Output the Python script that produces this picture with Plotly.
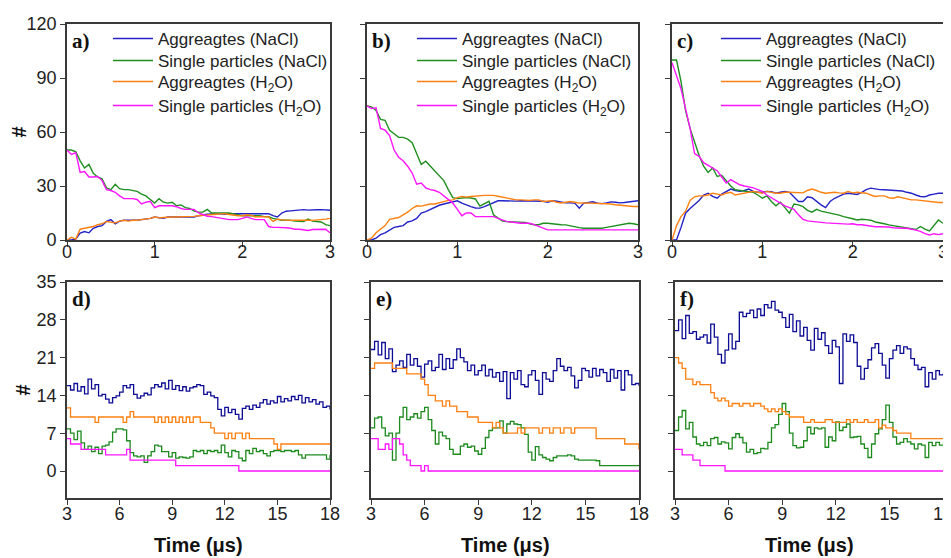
import plotly.graph_objects as go

# ---------------- time grids ----------------
T_TOP = [0.0, 0.05, 0.1, 0.15, 0.2, 0.25, 0.3, 0.35, 0.4, 0.45,
         0.5, 0.55, 0.6, 0.65, 0.7, 0.75, 0.8, 0.85, 0.9, 0.95,
         1.0, 1.05, 1.1, 1.15, 1.2, 1.25, 1.3, 1.35, 1.4, 1.45,
         1.5, 1.55, 1.6, 1.65, 1.7, 1.75, 1.8, 1.85, 1.9, 1.95,
         2.0, 2.05, 2.1, 2.15, 2.2, 2.25, 2.3, 2.35, 2.4, 2.45,
         2.5, 2.55, 2.6, 2.65, 2.7, 2.75, 2.8, 2.85, 2.9, 2.95,
         3.0]
T_BOT = [3.0, 3.2, 3.4, 3.6, 3.8, 4.0, 4.2, 4.4, 4.6, 4.8,
         5.0, 5.2, 5.4, 5.6, 5.8, 6.0, 6.2, 6.4, 6.6, 6.8,
         7.0, 7.2, 7.4, 7.6, 7.8, 8.0, 8.2, 8.4, 8.6, 8.8,
         9.0, 9.2, 9.4, 9.6, 9.8, 10.0, 10.2, 10.4, 10.6, 10.8,
         11.0, 11.2, 11.4, 11.6, 11.8, 12.0, 12.2, 12.4, 12.6, 12.8,
         13.0, 13.2, 13.4, 13.6, 13.8, 14.0, 14.2, 14.4, 14.6, 14.8,
         15.0, 15.2, 15.4, 15.6, 15.8, 16.0, 16.2, 16.4, 16.6, 16.8,
         17.0, 17.2, 17.4, 17.6, 17.8, 18.0]

SERIES_NAMES = ["Aggreagtes (NaCl)", "Single particles (NaCl)",
                "Aggreagtes (H<sub>2</sub>O)", "Single particles (H<sub>2</sub>O)"]
PANEL_LABELS = ["a)", "b)", "c)", "d)", "e)", "f)"]
X_TITLE = "Time (μs)"
Y_TITLE = "#"
TOP_YTICKS = [0, 30, 60, 90, 120]
BOT_YTICKS = [0, 7, 14, 21, 28, 35]
TOP_XTICKS = [0, 1, 2, 3]
BOT_XTICKS = [3, 6, 9, 12, 15, 18]

# ---------------- panel a ----------------
A_AGG_NACL = [0, 0, 0.5, 3.8, 4.7, 4, 6.5, 7.5, 8, 10.3,
              11.3, 9, 10.5, 11, 11, 10.9, 11, 11.3, 11.5, 12,
              12.8, 12.5, 12, 12.8, 12.8, 12.5, 12.6, 12.4, 12.6, 12.8,
              13.5, 14, 14.3, 14.5, 14.6, 14.5, 14.3, 14.6, 14.6, 14.6,
              14.6, 14.6, 14.6, 14.6, 14.6, 14.6, 14.6, 13.5, 12.8, 15,
              16, 16.2, 16.5, 16.6, 16.9, 16.6, 16.5, 16.8, 16.9, 16.6,
              16.5]
A_SGL_NACL = [50, 50, 49, 44, 40, 42, 37, 35, 34, 29,
              28, 31, 28.5, 28, 28, 27.5, 27, 25.5, 24.5, 22.5,
              20.5, 23, 21, 20.5, 21, 19, 19.5, 18, 17.5, 16,
              15.5, 15.5, 17, 15, 15, 15, 15, 15, 14.5, 14,
              13.5, 13.5, 13.5, 13.5, 13.5, 13, 13, 12, 11.3, 11,
              11, 11, 10.5, 10.3, 10.3, 11.6, 10.5, 10.3, 10, 8.5,
              8]
A_AGG_H2O = [0, 1.5, 0.5, 6, 6.5, 7, 7.5, 8.5, 9, 10.3,
             10, 9.5, 10.5, 11, 10.5, 11, 11, 11.3, 11.6, 12,
             12.8, 12.3, 12.5, 12.8, 12.8, 12.8, 12.8, 12.8, 13, 13.1,
             13.5, 13.8, 14, 14.2, 14.3, 14.5, 14.6, 14.2, 13.8, 13.5,
             13.5, 14, 13.8, 12.8, 13, 13, 12.8, 10.3, 11.6, 11.2,
             10.9, 10.9, 11, 11.1, 11.3, 11, 10.9, 11, 11.2, 11.6,
             12]
A_SGL_H2O = [50, 47.5, 48.5, 37.5, 38, 35, 35, 35.3, 33, 28,
             27.5, 26.5, 24.5, 23, 23, 23, 22.5, 20, 21, 21.5,
             18, 19, 19, 19, 19, 18.5, 17.5, 17, 17, 17,
             15, 14, 13.2, 13, 12.5, 12, 11.5, 11.3, 11.3, 11.3,
             12, 12.8, 12, 11.3, 11.3, 11.3, 7.5, 7, 7, 7,
             6.8, 6.5, 6, 6, 5.5, 5.3, 5.8, 6, 6, 6,
             4]

# ---------------- panel b ----------------
B_AGG_NACL = [0, 0, 1, 3, 4, 5.5, 7, 7.5, 8, 10,
              10.6, 12, 15, 15.8, 17, 18, 19.3, 20, 20.5, 21.4,
              21.8, 20.5, 19.3, 18.5, 17.8, 17.7, 18.5, 19.6, 20.5, 21.8,
              21.8, 21.6, 21.4, 21.6, 21.8, 21.8, 21.8, 21.6, 21.8, 21.5,
              21, 21.8, 21.5, 21, 20.6, 20.6, 20.5, 17.7, 20.5, 20.8,
              21.2, 20.5, 20.2, 20.6, 21.2, 21, 20.6, 20.8, 21, 21.5,
              21.8]
B_SGL_NACL = [74.5, 74, 72, 67, 66.5, 61, 59, 57, 57, 56,
              54, 48, 42, 43.8, 41, 38, 35.5, 33, 28, 23.5,
              23, 23.3, 23.6, 23.3, 22.8, 18.8, 20, 21.5, 14, 12,
              10.5, 10.2, 10, 10, 10, 9.8, 9, 8.5, 8.5, 9.3,
              9.3, 9, 8.5, 8.5, 8.4, 7.8, 7.2, 6.9, 6.5, 6.5,
              6.5, 6.5, 6.5, 7, 7.4, 8, 8.4, 8.6, 9.3, 9,
              8.5]
B_AGG_H2O = [0, 1, 4, 6, 8, 11.5, 12, 12.5, 14, 15.5,
             17.5, 19, 18.8, 19.5, 20, 20, 20.8, 21.4, 22, 22.3,
             23.5, 24.2, 23.8, 24.2, 24.5, 24.8, 24.8, 24.8, 24.8, 24.3,
             23.7, 23.4, 22.6, 22.3, 22.3, 22, 22, 22.3, 22.3, 21.4,
             21.8, 21.8, 21, 20.6, 21, 21.4, 21, 20.5, 20.6, 20.5,
             20.5, 20.5, 20.6, 20.5, 20, 19.6, 19.3, 18.8, 18.6, 18.6,
             18.6]
B_SGL_H2O = [74.5, 73, 73.5, 62, 61, 58, 50, 46, 44, 41,
             37.2, 31, 31.6, 29, 28, 27.5, 26.5, 24.5, 22.5, 20.5,
             17, 13.5, 15, 15, 13, 13, 13, 13, 13, 12,
             11, 10.2, 10, 9.5, 9.3, 9.3, 9.3, 8.5, 7.5, 6.5,
             5.6, 5.6, 5.6, 5.6, 5.6, 5.6, 5.6, 5.6, 5.6, 5.6,
             5.6, 5.6, 5.6, 5.6, 5.6, 5.6, 5.6, 5.6, 5.6, 5.6,
             5.6]

# ---------------- panel c ----------------
C_AGG_NACL = [0, 0, 7, 14.9, 17.5, 19.5, 22, 25, 26, 24.2,
              23.2, 25.5, 27, 28.3, 27.5, 27, 27.5, 28.3, 27, 26.5,
              26.5, 27, 26.8, 26, 26.5, 27, 26.5, 24.2, 21.4, 21.4,
              24, 23.5, 21.4, 19.5, 18, 21.4, 23.2, 24.5, 25.5, 26,
              25.5, 25.3, 26.5, 28, 28.8, 28.3, 28, 27.9, 27.8, 27.6,
              27.4, 27.2, 26.5, 26, 25, 24.2, 24, 25, 25.5, 26,
              26]
C_SGL_NACL = [100, 100, 88, 72, 62, 54, 47, 41, 37.5, 40,
              35.3, 36, 33, 30, 27.9, 27.5, 27, 27, 26.5, 25,
              23.2, 24.5, 21.4, 19, 21, 18, 14.9, 20, 19.5, 18.5,
              16.5, 15.5, 17, 16, 15.5, 15, 14.2, 13.8, 13, 12.2,
              11.8, 11.1, 11.5, 11.3, 11, 10, 9.3, 9, 8.4, 8,
              7.6, 7.4, 7, 6.5, 5.8, 7.5, 6, 5, 8, 11.1,
              9.3]
C_AGG_H2O = [0, 8, 13, 16, 22, 24, 24.5, 24.5, 25, 26,
             25.5, 25, 26, 26.5, 25, 25.5, 26, 26.5, 27, 26.5,
             26, 27, 26.5, 26, 26, 26.5, 26.5, 26.4, 26.5, 26.2,
             27.5, 28.3, 27.5, 26.5, 26, 26.2, 26.5, 26.2, 26, 27,
             26.2, 26.5, 26.4, 26, 25, 24.2, 24.5, 24.5, 23.5, 23.2,
             24, 23.5, 23, 22.3, 22.3, 22, 21.4, 21.3, 21, 20.8,
             20.8]
C_SGL_H2O = [98.5, 91, 84, 73, 62, 48, 46.5, 43, 41.5, 40,
             38.5, 35, 31.6, 33.5, 32, 30.7, 30, 29.5, 29, 28,
             27, 25, 23.5, 22, 20.5, 19, 18, 17, 14, 11.5,
             10.6, 10.2, 10, 9.8, 9.5, 9.3, 9.3, 9, 9, 8.8,
             9, 8.5, 8.5, 8, 7.6, 7.4, 7.4, 7.4, 7.2, 6.8,
             6.5, 6.5, 6.5, 6.2, 5.5, 4.8, 3.5, 2.8, 3.5, 3,
             3.5]

# ---------------- panel d ----------------
D_AGG_NACL = [15.8, 15, 16.2, 14.8, 15.6, 14.3, 17, 15.2, 16, 13.9,
              14.2, 13.3, 12.6, 13.6, 13.9, 14.6, 15.8, 15.4, 16, 14.2,
              13.5, 13.9, 14.4, 14.1, 15.4, 16, 15.6, 16.3, 15.2, 16.8,
              15.1, 15.8, 14.9, 15.6, 14.8, 15.4, 15.6, 16, 15.8, 14.2,
              14.6, 13.9, 13.6, 11.4, 10.2, 11.8, 10.8, 11.4, 10.5, 9.6,
              11.6, 12, 11.4, 12.2, 11.8, 12.6, 13.2, 12.4, 13, 12.6,
              13.8, 12.8, 13.4, 13, 13.8, 13.2, 14, 12.6, 13.6, 12.8,
              13.2, 12.4, 12.8, 11.8, 12, 11.4]
D_SGL_NACL = [7.8, 7, 5.8, 7.4, 5.2, 4, 4.6, 3.6, 4.4, 3.2,
              4.6, 4.8, 5.4, 7.2, 7.8, 7.8, 7.6, 5.6, 3.4, 2.8,
              2.6, 2.8, 1.6, 2.8, 3.6, 4.8, 4.6, 3.6, 3.6, 2.6,
              3.4, 2.4, 2.6, 2.5, 2.4, 2.6, 3.8, 3.6, 3.8, 3.2,
              3.8, 3.6, 3.8, 3.4, 4.8, 3.4, 2.6, 3.8, 3.6, 2.4,
              1.9, 3.8, 3.2, 4.2, 3.6, 3.8, 3.2, 2.8, 3.6, 3.8,
              3.8, 3.6, 3.8, 3.8, 3.6, 3.8, 3, 2.4, 3, 3,
              3, 3, 3, 3, 2.2, 3]
D_AGG_H2O = [11.7, 10, 10, 10, 10, 10, 10, 10, 9, 10,
             10, 10, 10, 10, 10, 10, 9, 10, 11, 10,
             10, 10, 10, 10, 10, 9, 10, 9, 10, 9,
             10, 9, 10, 9, 10, 9, 10, 10, 9, 9,
             9, 8, 7, 7, 7, 6, 7, 6, 7, 7,
             6, 7, 6, 6, 6, 6, 6, 6, 6, 5,
             4, 5, 5, 5, 5, 5, 5, 5, 5, 5,
             5, 5, 5, 5, 5, 5]
D_SGL_H2O = [6, 5, 5, 5, 4, 4, 4, 4, 4, 4,
             4, 3, 3, 3, 3, 3, 3, 4, 2, 2,
             2, 2, 2, 2, 2, 2, 2, 2, 2, 2,
             2, 1, 1, 1, 1, 1, 1, 1, 1, 1,
             1, 1, 1, 1, 1, 1, 1, 1, 1, 0,
             0, 0, 0, 0, 0, 0, 0, 0, 0, 0,
             0, 0, 0, 0, 0, 0, 0, 0, 0, 0,
             0, 0, 0, 0, 0, 0]

# ---------------- panel e ----------------
E_AGG_NACL = [22.5, 24, 21.5, 23.8, 20.8, 22.6, 18.4, 19.6, 20.4, 19.2,
              21.6, 19.6, 20.8, 19.4, 17.4, 19.8, 20.4, 18.6, 19.2, 21.6,
              18.8, 20.8, 19, 20.6, 22.6, 21, 20.2, 18.6, 19.6, 17.8,
              18.6, 19.6, 17.6, 18.8, 17.4, 18.2, 16.6, 18.4, 13.4, 18.2,
              17, 18.6, 16, 15.6, 17.8, 18.6, 16.8, 14.2, 18.2, 17,
              16.6, 18.6, 20.8, 19.4, 18.6, 19.2, 17.6, 15.4, 16.8, 19,
              18.6, 17.4, 19, 17.6, 18.8, 18.2, 16.6, 18.8, 17.2, 18.6,
              15, 18.6, 17.8, 16, 16.2, 15.8]
E_SGL_NACL = [8, 9.8, 10, 8, 6.5, 7, 2, 7, 10, 11.8,
              9.5, 10, 10.6, 9.8, 11, 11.8, 9.5, 7.5, 5, 7.2,
              6.5, 6, 4, 3.1, 3.1, 4.6, 5, 4.4, 4.6, 3.7,
              3.1, 4.2, 6.2, 7.5, 8, 8, 9.3, 7, 8.7, 9.2,
              8.7, 8.6, 8, 6.8, 3.5, 2, 4.5, 3, 2.5, 2.2,
              1.9, 2.5, 2.8, 2.8, 2.8, 3, 2.8, 2.2, 2, 2,
              2, 2, 2, 1.9, 1, 1, 1, 1, 1, 1,
              1, 1, 1, 1, 1, 1]
E_AGG_H2O = [19, 20, 20, 20, 20, 20, 19, 19, 19, 19,
             18, 18, 18, 18, 17, 16, 14, 14, 13, 13,
             12, 13, 12, 12, 11, 11, 11, 10, 10, 10,
             9, 9, 9, 9, 8, 9, 8, 7, 7, 7,
             7, 8, 7, 8, 8, 8, 8, 7, 8, 8,
             7, 8, 8, 7, 8, 8, 7, 8, 8, 8,
             8, 8, 8, 6, 6, 6, 6, 6, 6, 6,
             6, 5, 5, 5, 5, 4]
E_SGL_H2O = [6, 6, 4, 4, 5, 4, 6, 6, 5, 3,
             2, 1, 1, 1, 0, 1, 0, 0, 0, 0,
             0, 0, 0, 0, 0, 0, 0, 0, 0, 0,
             0, 0, 0, 0, 0, 0, 0, 0, 0, 0,
             0, 0, 0, 0, 0, 0, 0, 0, 0, 0,
             0, 0, 0, 0, 0, 0, 0, 0, 0, 0,
             0, 0, 0, 0, 0, 0, 0, 0, 0, 0,
             0, 0, 0, 0, 0, 0]

# ---------------- panel f ----------------
F_AGG_NACL = [26, 28, 24.5, 28.8, 25.5, 25.8, 24.4, 24.8, 25.2, 23.7,
              27.2, 24.8, 21.6, 20, 22.4, 25.4, 22.6, 24, 29.4, 28.6,
              29.2, 29.8, 28.4, 30, 28.8, 30.8, 30.2, 31.4, 29.8, 29.4,
              28.4, 26.6, 29, 25.8, 27.8, 25, 26.6, 24.2, 22.4, 26.4,
              24.4, 25.6, 23.2, 21.8, 24.2, 23, 16.2, 25.4, 24, 25.2,
              23.8, 19.4, 17, 19, 20.6, 22.8, 23.6, 21.8, 19.6, 17.2,
              20.8, 22.4, 23.2, 21.8, 23, 22.6, 20.8, 19.6, 18.8, 19.2,
              15.6, 18.2, 17, 18.6, 17.8, 18]
F_SGL_NACL = [7.5, 10, 11.2, 7.8, 9, 6.3, 5, 4.7, 5.3, 4.7,
              6, 6.2, 5, 5.4, 5.2, 4.1, 6.2, 6.9, 6.2, 5.2,
              3.5, 4, 3.2, 3.4, 4.2, 4.1, 5.3, 8, 8.6, 10.5,
              12.5, 11, 7, 4.7, 4.3, 4.4, 5.6, 8.1, 6.9, 8,
              7.8, 8, 4.4, 6.3, 5.6, 9.1, 7.5, 8.1, 8.7, 6.2,
              6.3, 6.4, 5, 4.2, 2.5, 5, 6.9, 7.8, 9.5, 12.2,
              9, 6.3, 5, 5.3, 6, 5.4, 5, 4.1, 5, 4.8,
              2.5, 5.3, 4.7, 5.3, 4.8, 4.7]
F_AGG_H2O = [21, 20, 19, 17, 17, 16, 16.5, 16, 16, 16,
             14.5, 13.5, 13, 13.5, 13, 12, 12.5, 12.5, 12, 12.5,
             12.5, 12, 12.5, 12.5, 12, 11.5, 11, 11.5, 11, 11.5,
             11, 10.5, 10, 10, 10, 10, 9, 9, 9.5, 9,
             9, 9, 9.5, 9.5, 9, 9, 9, 9, 9.5, 9,
             9.5, 9, 9, 9.5, 9, 9, 9.5, 8, 8.5, 8,
             8, 7.5, 7, 7, 7, 7, 6, 6, 6, 6,
             6, 6, 6, 6, 6, 6]
F_SGL_H2O = [4, 4, 3, 3, 3, 2, 2, 1, 1, 1,
             1, 1, 1, 1, 0, 0, 0, 0, 0, 0,
             0, 0, 0, 0, 0, 0, 0, 0, 0, 0,
             0, 0, 0, 0, 0, 0, 0, 0, 0, 0,
             0, 0, 0, 0, 0, 0, 0, 0, 0, 0,
             0, 0, 0, 0, 0, 0, 0, 0, 0, 0,
             0, 0, 0, 0, 0, 0, 0, 0, 0, 0,
             0, 0, 0, 0, 0, 0]

TOP_PANELS = [[A_AGG_NACL, A_SGL_NACL, A_AGG_H2O, A_SGL_H2O],
              [B_AGG_NACL, B_SGL_NACL, B_AGG_H2O, B_SGL_H2O],
              [C_AGG_NACL, C_SGL_NACL, C_AGG_H2O, C_SGL_H2O]]
BOT_PANELS = [[D_AGG_NACL, D_SGL_NACL, D_AGG_H2O, D_SGL_H2O],
              [E_AGG_NACL, E_SGL_NACL, E_AGG_H2O, E_SGL_H2O],
              [F_AGG_NACL, F_SGL_NACL, F_AGG_H2O, F_SGL_H2O]]

# ---------------- styling ----------------
# the page body has an 8px default margin: screen px = figure px + 8
OFF = 8
W, H = 951 - OFF, 558 - OFF
COL_TOP = ["#2323c8", "#1f8f1f", "#ff8010", "#ff14ff"]
COL_BOT = ["#0c0c94", "#1d8a1d", "#ff8010", "#ff14ff"]
SANS = "Liberation Sans, Arial, sans-serif"
SERIF = "Liberation Serif, Times New Roman, serif"
AX_COL = "#3a3a3a"

# screen-pixel boxes (left, right, top, bottom)
TOP_BOX = [(67, 330, 24, 240), (367, 638, 24, 240), (672, 943, 24, 240)]
BOT_BOX = [(67, 330, 282, 498), (371, 639, 282, 498), (675, 943, 282, 498)]


def fx(px):
    return (px - OFF) / W


def fy(py):
    return 1 - (py - OFF) / H


fig = go.Figure()

# one legend per entry so the rows can sit exactly as in the original
LEG_LEFT_PX = [108, 412, 716]
LEG_ROW_TOP_PX = [21, 43, 64, 88]

for p in range(3):
    ax = p + 1
    xref = "x" if ax == 1 else f"x{ax}"
    yref = "y" if ax == 1 else f"y{ax}"
    for s in range(4):
        n = p * 4 + s + 1
        lg = "legend" if n == 1 else f"legend{n}"
        fig.add_trace(go.Scatter(
            x=T_TOP, y=TOP_PANELS[p][s], mode="lines", name=SERIES_NAMES[s],
            line=dict(color=COL_TOP[s], width=1.4), xaxis=xref, yaxis=yref,
            legend=lg, showlegend=True))
for p in range(3):
    ax = p + 4
    xref, yref = f"x{ax}", f"y{ax}"
    for s in range(4):
        fig.add_trace(go.Scatter(
            x=T_BOT, y=BOT_PANELS[p][s], mode="lines", name=SERIES_NAMES[s],
            line=dict(color=COL_BOT[s], width=1.3, shape="hv"),
            xaxis=xref, yaxis=yref, showlegend=False))

axis_common = dict(showline=True, mirror=True, linecolor=AX_COL, linewidth=1.6,
                   ticks="outside", ticklen=5, tickwidth=1.4, tickcolor=AX_COL,
                   showgrid=False, zeroline=False, automargin=False,
                   ticklabeloverflow="allow",
                   tickfont=dict(family=SANS, size=18, color="#222"))

layout = dict(width=W, height=H, margin=dict(l=0, r=0, t=0, b=0, autoexpand=False),
              paper_bgcolor="white", plot_bgcolor="white", showlegend=True)

for i in range(6):
    ax = i + 1
    if i < 3:
        l, r, t, b = TOP_BOX[i]
        xr, yr = [0, 3], [0, 120]
        xt, yt = TOP_XTICKS, TOP_YTICKS
        xstand = -10
    else:
        l, r, t, b = BOT_BOX[i - 3]
        xr, yr = [3, 18], [-5, 35]
        xt, yt = BOT_XTICKS, BOT_YTICKS
        xstand = -6
    xa = dict(axis_common, domain=[fx(l), fx(r)], range=xr, tickvals=xt,
              anchor="y" if ax == 1 else f"y{ax}", ticklabelstandoff=xstand)
    ya = dict(axis_common, domain=[fy(b), fy(t)], range=yr, tickvals=yt,
              anchor="x" if ax == 1 else f"x{ax}",
              showticklabels=(i in (0, 3)))
    if i in (0, 3):
        ya["title"] = dict(text=f"<b>{Y_TITLE}</b>",
                           font=dict(family=SANS, size=20, color="#111"), standoff=1)
    layout["xaxis" if ax == 1 else f"xaxis{ax}"] = xa
    layout["yaxis" if ax == 1 else f"yaxis{ax}"] = ya

for p in range(3):
    for s in range(4):
        n = p * 4 + s + 1
        lg = "legend" if n == 1 else f"legend{n}"
        layout[lg] = dict(x=fx(LEG_LEFT_PX[p]), y=fy(LEG_ROW_TOP_PX[s]),
                          xanchor="left", yanchor="top",
                          bgcolor="rgba(0,0,0,0)", borderwidth=0, itemwidth=40,
                          font=dict(family=SANS, size=17, color="#222"))

annotations = []
for i in range(6):
    ax = i + 1
    annotations.append(dict(
        text=f"<b>{PANEL_LABELS[i]}</b>",
        xref=("x" if ax == 1 else f"x{ax}") + " domain",
        yref=("y" if ax == 1 else f"y{ax}") + " domain",
        x=0.012, y=0.985, xanchor="left", yanchor="top", showarrow=False,
        font=dict(family=SERIF, size=21, color="#111")))
for i in range(3, 6):
    ax = i + 1
    annotations.append(dict(
        text=f"<b>{X_TITLE}</b>", xref=f"x{ax} domain", yref="paper",
        x=0.5, y=fy(545), xanchor="center", yanchor="middle", showarrow=False,
        font=dict(family=SANS, size=20, color="#111")))
layout["annotations"] = annotations

fig.update_layout(**layout)
fig.write_html("out.html")
